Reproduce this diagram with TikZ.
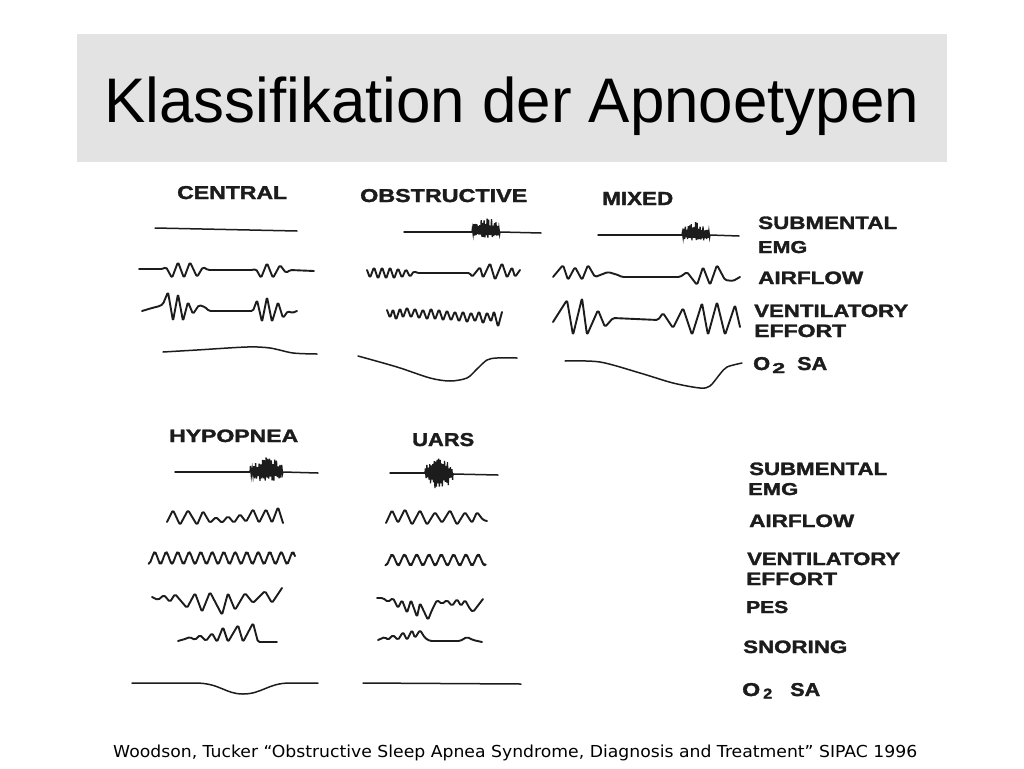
\documentclass[tikz,border=0pt]{standalone}
\usepackage{fontspec}
\usepackage{graphicx}
\setmainfont{Liberation Sans}
\newfontfamily\labfont{Liberation Sans}[BoldFeatures={FakeBold=1.6}]
\newfontfamily\footfont{DejaVu Sans}
\definecolor{ink}{RGB}{28,28,28}
\definecolor{titlegray}{RGB}{227,227,227}
\tikzset{
  trace/.style={draw=ink, line width=1.9pt, line join=round, line cap=round, rounded corners=1.6pt},
  flat/.style={draw=ink, line width=1.5pt, line cap=round},
  burstline/.style={draw=ink, line width=1.3pt, line join=miter},
  lab/.style={anchor=base west, inner sep=0pt, text=ink},
}
\newcommand{\lab}[3]{\resizebox{#1pt}{#2pt}{\labfont\bfseries #3}}
\newcommand{\emgburst}[5]{%
  \draw[burstline] (#1,#3) \foreach \i in {0,...,37} {
    -- ({#1+(#2-#1)*(\i+0.5)/38},
        {#3 + (mod(\i,2)==0 ? -#4 : #5)*(0.4+0.6*rnd)*(0.45+0.55*sin(180*(\i+0.5)/38))}) } -- (#2,#3);
}
\begin{document}
\begin{tikzpicture}[x=1pt,y=-1pt]
\pgfmathsetseed{7}
\useasboundingbox (0,0) rectangle (1024,768);
\fill[white] (0,0) rectangle (1024,768);
\fill[titlegray] (77,34) rectangle (947,162);
\node[anchor=base west, inner sep=0pt] (title) at (104,122)
  {\resizebox{815pt}{\height}{\fontsize{63}{63}\selectfont Klassifikation der Apnoetypen}};

% ---------- column labels ----------
\node[lab] (lcentral) at (177,199) {\lab{110}{13}{CENTRAL}};
\node[lab] (lobstr) at (360,202) {\lab{167}{13}{OBSTRUCTIVE}};
\node[lab] (lmixed) at (602,205) {\lab{71}{13}{MIXED}};
\node[lab] (lhypo) at (169,442) {\lab{129}{12.5}{HYPOPNEA}};
\node[lab] (luars) at (412,446) {\lab{62}{13}{UARS}};

% ---------- row labels (top) ----------
\node[lab] (tsub) at (758,229) {\lab{139}{12.5}{SUBMENTAL}};
\node[lab] (temg) at (758,253) {\lab{49}{12}{EMG}};
\node[lab] (tair) at (758,284) {\lab{105}{12.5}{AIRFLOW}};
\node[lab] (tvent) at (754,317) {\lab{154}{12.5}{VENTILATORY}};
\node[lab] (teff) at (754,337) {\lab{92}{12.5}{EFFORT}};
\node[lab] (to2) at (753,370) {\lab{17}{13}{O}\hspace{2pt}\raisebox{-3pt}{\lab{13}{10}{2}}\hspace{12pt}\lab{30}{13}{SA}};

% ---------- row labels (bottom) ----------
\node[lab] (bsub) at (749,475) {\lab{138}{12.5}{SUBMENTAL}};
\node[lab] (bemg) at (748,495) {\lab{50}{12}{EMG}};
\node[lab] (bair) at (749,527) {\lab{105}{12.5}{AIRFLOW}};
\node[lab] (bvent) at (747,565) {\lab{153}{12.5}{VENTILATORY}};
\node[lab] (beff) at (746,585) {\lab{91}{12.5}{EFFORT}};
\node[lab] (bpes) at (746,613) {\lab{42}{12}{PES}};
\node[lab] (bsnore) at (743,653) {\lab{104}{12.5}{SNORING}};
\node[lab] (bo2) at (742,696) {\lab{18}{13}{O}\hspace{3pt}\raisebox{-2.5pt}{\lab{9}{10}{2}}\hspace{18pt}\lab{30}{13}{SA}};

% ================= CENTRAL =================
\draw[flat] (155,228) -- (297,231);
\draw[trace] plot coordinates {(139,269) (163,269) (166,267) (172,278) (178,262) (184,278) (190,262) (197,277) (203,267) (208,270) (253,270) (256,269) (261,278) (267,263) (273,278) (280,265) (286,273) (290,270) (314,271)};
\draw[trace] plot coordinates {(142,311) (152,308) (160,306) (163,304) (168,292) (173,321) (178,294) (183,321) (188,302) (193,314) (199,305) (205,307) (209,311) (253,311) (257,300) (262,322) (267,297) (272,322) (278,302) (283,318) (288,311) (292,313) (297,311)};
\draw[flat] plot[smooth] coordinates {(163,352) (197,350) (247,347) (270,348) (293,353) (317,354)};

% ================= OBSTRUCTIVE =================
\draw[flat] (404,232) -- (472,232);
\emgburst{472}{500}{232}{15}{6}
\draw[flat] (500,232) -- (541,233);
\draw[trace] plot coordinates {(367,270) (370,278) (374,267) (378,279) (382,267) (386,279) (390,267) (394,279) (398,268) (402,278) (406,269) (410,277) (414,271) (417,273) (470,273) (472,277) (480,267) (483,278) (490,263) (495,280) (502,263) (507,278) (512,267) (515,277) (520,270)};
\draw[trace] plot coordinates {(387,310) (390,318) (393,309) (396,320) (400,308) (403,318) (407,307) (411,318) (415,308) (419,319) (423,309) (427,320) (431,308) (435,320) (439,309) (443,321) (447,310) (451,321) (455,311) (459,322) (463,311) (467,323) (471,312) (475,322) (479,311) (483,324) (487,312) (491,322) (494,311) (498,327) (502,312)};
\draw[flat] plot[smooth] coordinates {(358,356) (397,367) (430,378) (450,381) (467,378) (477,369) (487,360) (497,358) (517,358)};

% ================= MIXED =================
\draw[flat] (598,235) -- (682,235);
\emgburst{682}{710}{235}{13}{7}
\draw[flat] (710,235) -- (739,236);
\draw[trace] plot coordinates {(553,277) (563,265) (568,280) (575,267) (582,280) (588,265) (595,277) (608,272) (618,275) (622,277) (680,277) (687,272) (697,285) (703,267) (710,285) (717,265) (725,280) (733,281) (740,277)};
\draw[trace] plot coordinates {(553,322) (567,300) (573,335) (582,298) (587,335) (598,310) (605,327) (613,318) (658,320) (663,313) (673,328) (683,308) (692,335) (702,303) (708,335) (717,302) (725,335) (735,305) (740,327)};
\draw[flat] plot[smooth] coordinates {(565,361) (600,362) (640,373) (673,383) (700,388) (710,386) (720,374) (727,367) (742,363)};

% ================= HYPOPNEA =================
\draw[flat] (175,472) -- (250,472);
\emgburst{250}{283}{472}{15}{10}
\draw[flat] (283,472) -- (318,473);
\draw[trace] plot coordinates {(167,522) (173,510) (180,525) (188,510) (197,525) (203,511) (210,523) (216,517) (222,523) (228,516) (234,523) (240,514) (246,522) (253,509) (259,523) (266,509) (272,523) (278,507) (283,523)};
\draw[trace] plot[domain=149:295, samples=160] (\x, {558+5.5*cos(31.304*(\x-149))});
\draw[trace] plot coordinates {(152,597) (158,600) (164,595) (170,602) (175,594) (187,608) (195,593) (202,612) (210,592) (222,615) (228,593) (235,610) (245,593) (253,603) (265,591) (272,603) (282,588)};
\draw[trace] plot coordinates {(178,641) (185,639) (190,637) (195,640) (200,635) (206,641) (212,633) (217,642) (223,627) (228,642) (238,625) (243,642) (253,623) (258,642) (277,642)};
\draw[flat] (132,683) -- (195,683) .. controls (220,683) and (225,694) .. (243,694) .. controls (262,694) and (268,683) .. (290,683) -- (318,683);

% ================= UARS =================
\draw[flat] (390,473) -- (425,473);
\emgburst{425}{453}{473}{15}{17}
\draw[flat] (453,474) -- (498,475);
\draw[trace] plot coordinates {(386,523) (392,510) (398,523) (405,509) (412,525) (420,510) (427,525) (435,512) (442,523) (450,510) (457,525) (465,512) (472,523) (477,512) (483,520) (487,521)};
\draw[trace] plot[domain=386:485, samples=120] (\x, {560+5*cos(29.268*(\x-386))});
\draw[trace] plot coordinates {(377,598) (383,598) (388,602) (393,598) (398,608) (402,600) (407,613) (411,600) (417,617) (420,603) (428,620) (432,610) (437,600) (442,604) (447,600) (452,606) (457,599) (461,606) (465,600) (470,609) (473,612) (483,599)};
\draw[trace] plot coordinates {(378,640) (385,637) (388,640) (393,635) (398,640) (403,632) (407,640) (412,630) (415,638) (420,630) (425,638) (430,641) (460,641) (467,637) (473,640) (482,642)};
\draw[flat] (363,683) -- (521,684);

% ---------- reference ----------
\node[anchor=base west, inner sep=0pt] (ref) at (113,757)
  {\resizebox{804pt}{\height}{\footfont\fontsize{16.5}{16.5}\selectfont Woodson, Tucker “Obstructive Sleep Apnea Syndrome, Diagnosis and Treatment” SIPAC 1996}};
\end{tikzpicture}
\end{document}
